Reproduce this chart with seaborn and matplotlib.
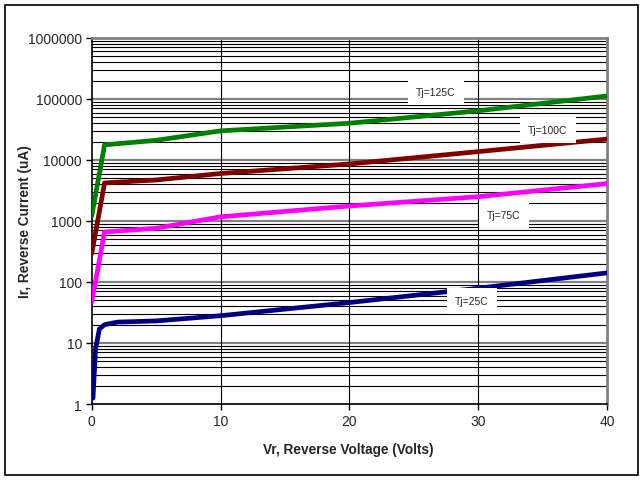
import numpy as np
import pandas as pd
import matplotlib
matplotlib.use("Agg")
import matplotlib.pyplot as plt
import seaborn as sns
from matplotlib.ticker import FixedLocator, NullFormatter
from matplotlib.patches import Rectangle

# ---- data ----
x_25 = [0.1, 0.3, 0.6, 1.0, 2.0, 5.0, 10.0, 20.0, 30.0, 40.0]
y_25 = [1.25, 8.0, 17.0, 20.0, 22.0, 23.0, 28.0, 46.0, 79.0, 141.0]

x_75 = [0.0, 1.0, 5.0, 10.0, 20.0, 30.0, 40.0]
y_75 = [47.0, 660.0, 760.0, 1170.0, 1760.0, 2500.0, 4100.0]

x_100 = [0.0, 1.0, 5.0, 10.0, 20.0, 30.0, 40.0]
y_100 = [290.0, 4200.0, 4700.0, 6000.0, 8600.0, 13700.0, 22000.0]

x_125 = [0.0, 1.0, 5.0, 10.0, 20.0, 30.0, 40.0]
y_125 = [1200.0, 17700.0, 21000.0, 30000.0, 40000.0, 64000.0, 112000.0]

series_names = ["Tj=25C", "Tj=75C", "Tj=100C", "Tj=125C"]
series_colors = ["#000080", "#FF00FF", "#800000", "#008000"]

x_ticks = [0, 10, 20, 30, 40]
y_ticks = [1, 10, 100, 1000, 10000, 100000, 1000000]
y_tick_labels = ["1", "10", "100", "1000", "10000", "100000", "1000000"]

df = pd.concat([
    pd.DataFrame({"Vr": x_25, "Ir": y_25, "Series": series_names[0]}),
    pd.DataFrame({"Vr": x_75, "Ir": y_75, "Series": series_names[1]}),
    pd.DataFrame({"Vr": x_100, "Ir": y_100, "Series": series_names[2]}),
    pd.DataFrame({"Vr": x_125, "Ir": y_125, "Series": series_names[3]}),
], ignore_index=True)

sns.set_style("white")
plt.rcParams["font.family"] = ["Liberation Sans", "DejaVu Sans"]

fig = plt.figure(figsize=(6.43, 4.81), dpi=100)
ax = fig.add_axes([0.1426, 0.158, 0.944 - 0.1426, 0.919 - 0.158])

ax.set_yscale("log")
ax.set_xlim(0, 40)
ax.set_ylim(1, 1000000)

# grid lines
for dec in y_ticks[:-1]:
    for m in range(2, 10):
        ax.axhline(dec * m, color="black", lw=0.8, zorder=1)
for t in y_ticks[1:-1]:
    ax.axhline(t, color="#808080", lw=1.6, zorder=1)
for t in x_ticks[1:-1]:
    ax.axvline(t, color="black", lw=0.8, zorder=1)

sns.lineplot(data=df, x="Vr", y="Ir", hue="Series", hue_order=series_names,
             palette=series_colors, lw=3.4, sort=False, estimator=None,
             legend=False, ax=ax, zorder=3)

ax.xaxis.set_major_locator(FixedLocator(x_ticks))
ax.set_xticklabels([str(t) for t in x_ticks])
ax.yaxis.set_major_locator(FixedLocator(y_ticks))
ax.set_yticklabels(y_tick_labels)
ax.yaxis.set_minor_locator(FixedLocator([]))
ax.yaxis.set_minor_formatter(NullFormatter())
ax.tick_params(axis="both", which="major", direction="out", length=4, width=1,
               color="black", labelsize=10, pad=3, left=True, bottom=True)

for side in ["left", "bottom"]:
    ax.spines[side].set_color("black")
    ax.spines[side].set_linewidth(1.2)
for side in ["top", "right"]:
    ax.spines[side].set_color("#808080")
    ax.spines[side].set_linewidth(2.0)
    ax.spines[side].set_visible(True)

ax.set_xlabel("Vr, Reverse Voltage (Volts)", fontsize=9.8, fontweight="bold")
ax.set_ylabel("Ir, Reverse Current (uA)", fontsize=9.8, fontweight="bold")
ax.xaxis.set_label_coords(0.497, -0.103)
ax.yaxis.set_label_coords(-0.116, 0.5)

# series labels
label_pos = {
    "Tj=25C": (29.5, 49),
    "Tj=75C": (32.0, 1260),
    "Tj=100C": (35.4, 31000),
    "Tj=125C": (26.7, 130000),
}
for name in series_names:
    lx, ly = label_pos[name]
    ax.text(lx, ly, name, fontsize=7.5, ha="center", va="center", zorder=5,
            bbox=dict(boxstyle="square,pad=0.8", fc="white", ec="none"))

# outer border
fig.patches.append(Rectangle((5 / 643, 5 / 481), 633 / 643, 470 / 481,
                             transform=fig.transFigure, fill=False,
                             ec="black", lw=1.2))

fig.savefig("out.png", dpi=100)
